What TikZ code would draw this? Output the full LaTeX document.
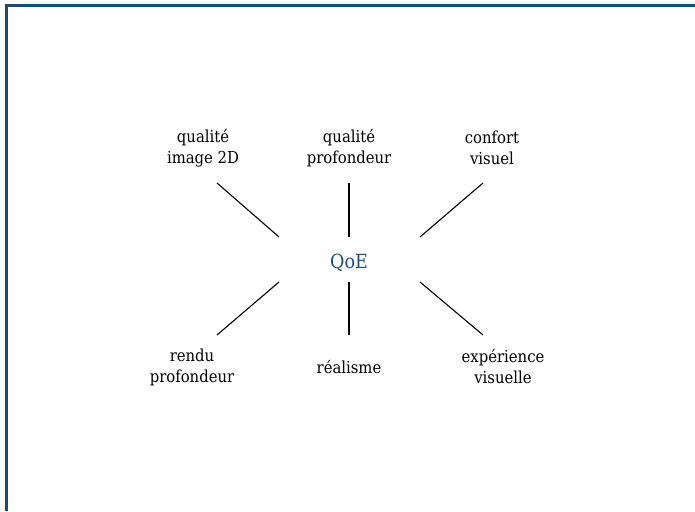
\documentclass[tikz,border=0pt]{standalone}
\usepackage{fontspec}
\setmainfont{DejaVu Serif Condensed}
\definecolor{frameblue}{HTML}{1F4B73}
\definecolor{qoeblue}{HTML}{1F4E79}
\begin{document}
\begin{tikzpicture}[x=1pt,y=-1pt,
  lbl/.style={align=center,font=\fontsize{16.5}{21}\selectfont,inner sep=0pt},
  conn/.style={draw=black,line width=1.1pt}]
\useasboundingbox (0,0) rectangle (695,511);
\draw[frameblue,line width=3pt] (6,511) -- (6,6) -- (695,6);
\node[lbl,text=qoeblue,font=\fontsize{19.5}{22}\selectfont] (qoe) at (349,263) {QoE};
\node[lbl] (a) at (203,148) {qualité\\image 2D};
\node[lbl] (b) at (349,148) {qualité\\profondeur};
\node[lbl] (c) at (492,148) {confort\\visuel};
\node[lbl] (d) at (192,367) {rendu\\profondeur};
\node[lbl] (e) at (349,367) {réalisme};
\node[lbl] (f) at (503,367) {expérience\\visuelle};
\coordinate (a1) at (217,183); \coordinate (a2) at (279,237);
\coordinate (b1) at (349,183); \coordinate (b2) at (349,237);
\coordinate (c1) at (483,183); \coordinate (c2) at (420,237);
\coordinate (d1) at (279,282); \coordinate (d2) at (217,335);
\coordinate (e1) at (349,282); \coordinate (e2) at (349,335);
\coordinate (f1) at (420,282); \coordinate (f2) at (483,335);
\draw[conn] (a1) -- (a2);
\draw[conn] (b1) -- (b2);
\draw[conn] (c1) -- (c2);
\draw[conn] (d1) -- (d2);
\draw[conn] (e1) -- (e2);
\draw[conn] (f1) -- (f2);
\end{tikzpicture}
\end{document}
